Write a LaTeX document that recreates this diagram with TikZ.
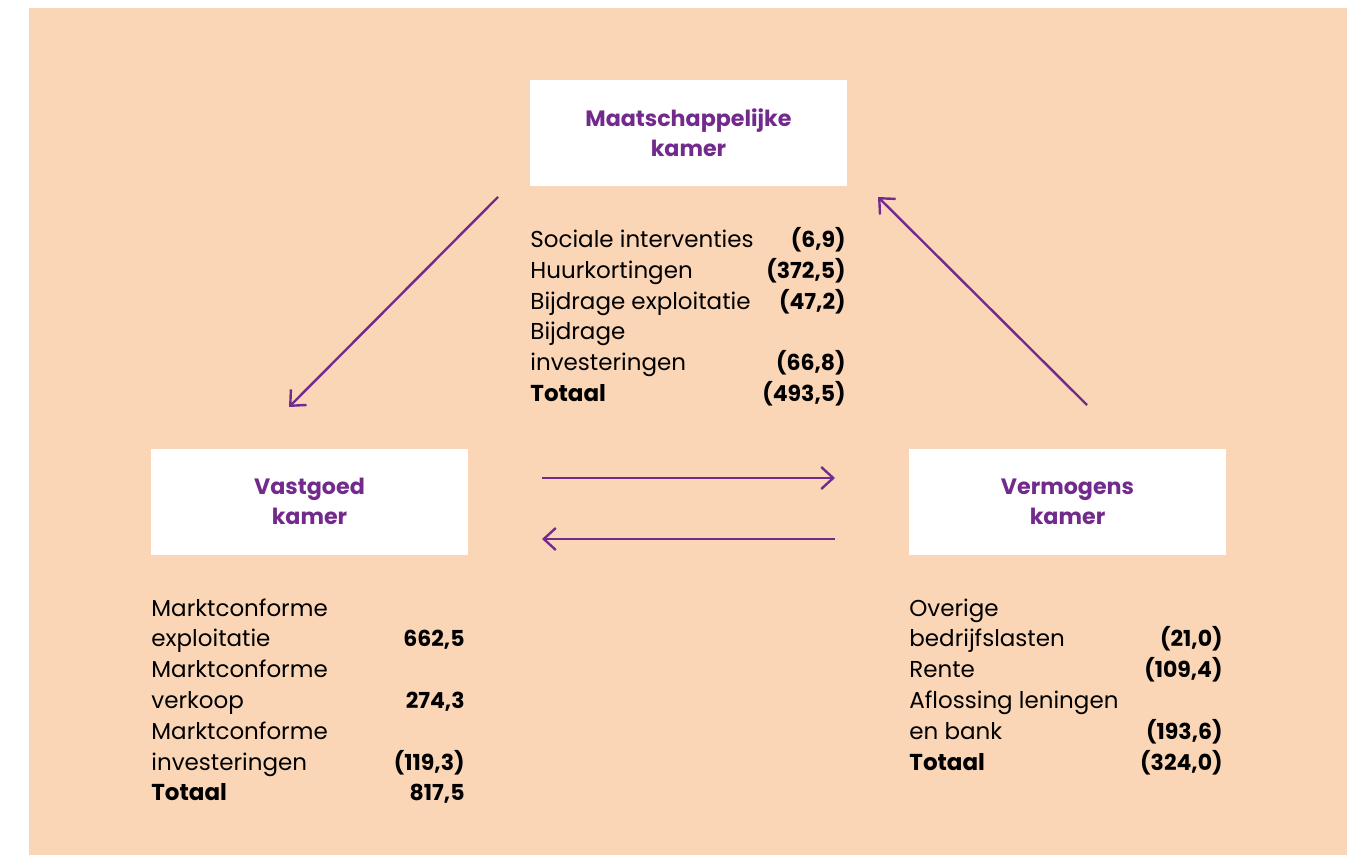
\documentclass[tikz,border=0pt]{standalone}
\usepackage{fontspec}
\setmainfont{Poppins}
\usetikzlibrary{arrows.meta}
\definecolor{peach}{HTML}{FBD6B6}
\definecolor{kamerpurple}{HTML}{722A8C}

\begin{document}
\begin{tikzpicture}[x=0.5pt,y=-0.5pt,
  kamer/.style={fill=white,minimum width=158.5pt,minimum height=53pt,inner sep=0pt,
    text=kamerpurple,font=\bfseries\fontsize{11.1}{15}\selectfont,align=center},
  flow/.style={kamerpurple,line width=1.2pt,-{Straight Barb[length=6pt,width=11pt]}},
  rij/.style={anchor=base west,inner sep=0pt,font=\fontsize{11.5}{15}\selectfont},
  bedrag/.style={anchor=base east,inner sep=0pt,font=\bfseries\fontsize{11}{15}\selectfont}]

\useasboundingbox (0,0) rectangle (1354,855);
\fill[white] (0,0) rectangle (1354,855);
\fill[peach] (29,8) rectangle (1347,855);

% de drie kamers
\node[kamer] (maat)  at ( 688.5,133  ) {Maatschappelijke\\kamer};
\node[kamer] (vast)  at ( 309.5,501.5) {Vastgoed\\kamer};
\node[kamer] (verm)  at (1067.5,501.5) {Vermogens\\kamer};

% stromen
\coordinate (maat-uit) at ( 498,197);
\coordinate (vast-in)  at ( 289,407);
\coordinate (verm-uit) at (1087,405);
\coordinate (maat-in)  at ( 878,197);
\coordinate (vast-r1)  at ( 542,478);
\coordinate (verm-l1)  at ( 835,478);
\coordinate (verm-l2)  at ( 835,539);
\coordinate (vast-r2)  at ( 542,539);

\draw[flow] (maat-uit) -- (vast-in);
\draw[flow] (verm-uit) -- (maat-in);
\draw[flow] (vast-r1) -- (verm-l1);
\draw[flow] (verm-l2) -- (vast-r2);

% bedragen maatschappelijke kamer
\foreach \lbl/\val [count=\i] in {Sociale interventies/{(6,9)}, Huurkortingen/{(372,5)},
    Bijdrage exploitatie/{(47,2)}, Bijdrage/{}, investeringen/{(66,8)}, {\bfseries Totaal}/{(493,5)}}{
  \node[rij]    (maat-l\i) at (530,248+30.6*\i-30.6) {\lbl};
  \node[bedrag] (maat-r\i) at (846,248+30.6*\i-30.6) {\val};
}

% bedragen vastgoed kamer
\foreach \lbl/\val [count=\i] in {Marktconforme/{}, exploitatie/{662,5}, Marktconforme/{},
    verkoop/{274,3}, Marktconforme/{}, investeringen/{(119,3)}, {\bfseries Totaal}/{817,5}}{
  \node[rij]    (vast-l\i) at (151,616+30.8*\i-30.8) {\lbl};
  \node[bedrag] (vast-r\i) at (465,616+30.8*\i-30.8) {\val};
}

% bedragen vermogens kamer
\foreach \lbl/\val [count=\i] in {Overige/{}, bedrijfslasten/{(21,0)}, Rente/{(109,4)},
    Aflossing leningen/{}, en bank/{(193,6)}, {\bfseries Totaal}/{(324,0)}}{
  \node[rij]    (verm-l\i) at (909,616+30.8*\i-30.8) {\lbl};
  \node[bedrag] (verm-r\i) at (1223,616+30.8*\i-30.8) {\val};
}

\end{tikzpicture}
\end{document}
